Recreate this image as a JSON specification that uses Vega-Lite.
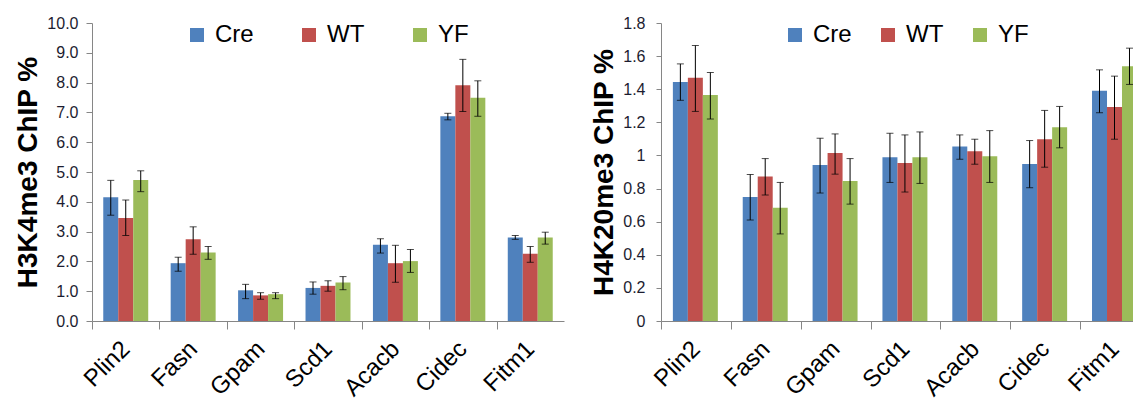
{
  "$schema": "https://vega.github.io/schema/vega-lite/v6.json",
  "padding": {"left": 14, "top": 15, "right": 0, "bottom": 0},
  "spacing": 26,
  "config": {
    "view": {"stroke": null},
    "font": "Liberation Sans",
    "axis": {"grid": false, "domainColor": "#868686", "tickColor": "#868686", "labelFont": "Liberation Sans", "titleFont": "Liberation Sans"},
    "legend": {"labelFont": "Liberation Sans"}
  },
  "datasets": {
    "h3": [
      {"gene": "Plin2", "group": "Cre", "v": 4.15, "lo": 3.55, "hi": 4.72},
      {"gene": "Plin2", "group": "WT", "v": 3.46, "lo": 2.87, "hi": 4.06},
      {"gene": "Plin2", "group": "YF", "v": 4.73, "lo": 4.34, "hi": 5.04},
      {"gene": "Fasn", "group": "Cre", "v": 1.94, "lo": 1.67, "hi": 2.14},
      {"gene": "Fasn", "group": "WT", "v": 2.74, "lo": 2.24, "hi": 3.16},
      {"gene": "Fasn", "group": "YF", "v": 2.30, "lo": 2.07, "hi": 2.50},
      {"gene": "Gpam", "group": "Cre", "v": 1.03, "lo": 0.75, "hi": 1.23},
      {"gene": "Gpam", "group": "WT", "v": 0.86, "lo": 0.73, "hi": 0.95},
      {"gene": "Gpam", "group": "YF", "v": 0.90, "lo": 0.75, "hi": 0.95},
      {"gene": "Scd1", "group": "Cre", "v": 1.11, "lo": 0.90, "hi": 1.31},
      {"gene": "Scd1", "group": "WT", "v": 1.18, "lo": 1.00, "hi": 1.35},
      {"gene": "Scd1", "group": "YF", "v": 1.29, "lo": 1.05, "hi": 1.49},
      {"gene": "Acacb", "group": "Cre", "v": 2.56, "lo": 2.28, "hi": 2.76},
      {"gene": "Acacb", "group": "WT", "v": 1.94, "lo": 1.30, "hi": 2.54},
      {"gene": "Acacb", "group": "YF", "v": 2.01, "lo": 1.63, "hi": 2.40},
      {"gene": "Cidec", "group": "Cre", "v": 6.87, "lo": 6.75, "hi": 6.97},
      {"gene": "Cidec", "group": "WT", "v": 7.91, "lo": 7.03, "hi": 8.78},
      {"gene": "Cidec", "group": "YF", "v": 7.49, "lo": 6.87, "hi": 8.06},
      {"gene": "Fitm1", "group": "Cre", "v": 2.80, "lo": 2.74, "hi": 2.87},
      {"gene": "Fitm1", "group": "WT", "v": 2.26, "lo": 1.97, "hi": 2.50},
      {"gene": "Fitm1", "group": "YF", "v": 2.80, "lo": 2.58, "hi": 2.98}
    ],
    "h4": [
      {"gene": "Plin2", "group": "Cre", "v": 1.443, "lo": 1.333, "hi": 1.553},
      {"gene": "Plin2", "group": "WT", "v": 1.469, "lo": 1.266, "hi": 1.664},
      {"gene": "Plin2", "group": "YF", "v": 1.365, "lo": 1.220, "hi": 1.501},
      {"gene": "Fasn", "group": "Cre", "v": 0.749, "lo": 0.610, "hi": 0.885},
      {"gene": "Fasn", "group": "WT", "v": 0.873, "lo": 0.761, "hi": 0.981},
      {"gene": "Fasn", "group": "YF", "v": 0.684, "lo": 0.526, "hi": 0.837},
      {"gene": "Gpam", "group": "Cre", "v": 0.943, "lo": 0.773, "hi": 1.104},
      {"gene": "Gpam", "group": "WT", "v": 1.015, "lo": 0.887, "hi": 1.130},
      {"gene": "Gpam", "group": "YF", "v": 0.845, "lo": 0.706, "hi": 0.981},
      {"gene": "Scd1", "group": "Cre", "v": 0.989, "lo": 0.837, "hi": 1.134},
      {"gene": "Scd1", "group": "WT", "v": 0.955, "lo": 0.779, "hi": 1.124},
      {"gene": "Scd1", "group": "YF", "v": 0.989, "lo": 0.831, "hi": 1.142},
      {"gene": "Acacb", "group": "Cre", "v": 1.054, "lo": 0.977, "hi": 1.124},
      {"gene": "Acacb", "group": "WT", "v": 1.025, "lo": 0.947, "hi": 1.098},
      {"gene": "Acacb", "group": "YF", "v": 0.995, "lo": 0.837, "hi": 1.150},
      {"gene": "Cidec", "group": "Cre", "v": 0.949, "lo": 0.805, "hi": 1.090},
      {"gene": "Cidec", "group": "WT", "v": 1.098, "lo": 0.929, "hi": 1.272},
      {"gene": "Cidec", "group": "YF", "v": 1.170, "lo": 1.046, "hi": 1.296},
      {"gene": "Fitm1", "group": "Cre", "v": 1.391, "lo": 1.258, "hi": 1.517},
      {"gene": "Fitm1", "group": "WT", "v": 1.292, "lo": 1.098, "hi": 1.479},
      {"gene": "Fitm1", "group": "YF", "v": 1.539, "lo": 1.429, "hi": 1.648}
    ]
  },
  "resolve": {"scale": {"color": "independent"}, "legend": {"color": "independent"}},
  "hconcat": [
    {
      "width": 472,
      "height": 298,
      "data": {"name": "h3"},
      "encoding": {
        "x": {
          "field": "gene", "type": "nominal",
          "sort": ["Plin2", "Fasn", "Gpam", "Scd1", "Acacb", "Cidec", "Fitm1"],
          "scale": {"paddingInner": 0.333, "paddingOuter": 0.167},
          "axis": {"title": null, "labelAngle": -45, "labelAlign": "right", "labelBaseline": "middle", "labelFontSize": 24, "labelColor": "#000", "tickSize": 8, "tickOffset": -33.714, "labelOffset": 33.714, "labelPadding": 16, "labelOverlap": false}
        },
        "xOffset": {"field": "group", "type": "nominal", "sort": ["Cre", "WT", "YF"], "scale": {"paddingInner": 0, "paddingOuter": 0}}
      },
      "layer": [
        {
          "mark": {"type": "bar"},
          "encoding": {
            "y": {
              "field": "v", "type": "quantitative",
              "scale": {"domain": [0, 10], "nice": false},
              "axis": {"title": "H3K4me3 ChIP %", "titleFontSize": 28, "titleFontWeight": "bold", "titleColor": "#000", "titlePadding": 4, "values": [0, 1, 2, 3, 4, 5, 6, 7, 8, 9, 10], "tickCount": 30, "labelOverlap": false, "labelFontSize": 16, "labelColor": "#1c1c30", "tickSize": 6, "labelPadding": 8}
            },
            "color": {
              "field": "group", "type": "nominal",
              "scale": {"domain": ["Cre", "WT", "YF"], "range": ["#4F81BD", "#C0504D", "#9BBB59"]},
              "legend": {"title": null, "orient": "none", "legendX": 93, "legendY": 0, "direction": "horizontal", "columns": 3, "symbolType": "square", "symbolSize": 196, "symbolStrokeWidth": 0, "symbolOpacity": 1, "labelFontSize": 24, "labelColor": "#000", "labelOffset": 6, "columnPadding": 43}
            }
          }
        },
        {
          "mark": {"type": "rule", "color": "#000", "strokeWidth": 1},
          "encoding": {"y": {"field": "lo", "type": "quantitative"}, "y2": {"field": "hi"}}
        },
        {
          "mark": {"type": "tick", "color": "#000", "thickness": 1, "size": 7},
          "encoding": {"y": {"field": "lo", "type": "quantitative"}}
        },
        {
          "mark": {"type": "tick", "color": "#000", "thickness": 1, "size": 7},
          "encoding": {"y": {"field": "hi", "type": "quantitative"}}
        }
      ]
    },
    {
      "width": 489,
      "height": 298,
      "data": {"name": "h4"},
      "encoding": {
        "x": {
          "field": "gene", "type": "nominal",
          "sort": ["Plin2", "Fasn", "Gpam", "Scd1", "Acacb", "Cidec", "Fitm1"],
          "scale": {"paddingInner": 0.34, "paddingOuter": 0.17},
          "axis": {"title": null, "labelAngle": -45, "labelAlign": "right", "labelBaseline": "middle", "labelFontSize": 24, "labelColor": "#000", "tickSize": 8, "tickOffset": -34.93, "labelOffset": 34.93, "labelPadding": 16, "labelOverlap": false}
        },
        "xOffset": {"field": "group", "type": "nominal", "sort": ["Cre", "WT", "YF"], "scale": {"paddingInner": 0, "paddingOuter": 0}}
      },
      "layer": [
        {
          "mark": {"type": "bar"},
          "encoding": {
            "y": {
              "field": "v", "type": "quantitative",
              "scale": {"domain": [0, 1.8], "nice": false},
              "axis": {"title": "H4K20me3 ChIP %", "titleFontSize": 28, "titleFontWeight": "bold", "titleColor": "#000", "titlePadding": 4, "values": [0, 0.2, 0.4, 0.6, 0.8, 1, 1.2, 1.4, 1.6, 1.8], "tickCount": 30, "labelOverlap": false, "format": "~g", "labelFontSize": 16, "labelColor": "#1c1c30", "tickSize": 5, "labelPadding": 11}
            },
            "color": {
              "field": "group", "type": "nominal",
              "scale": {"domain": ["Cre", "WT", "YF"], "range": ["#4F81BD", "#C0504D", "#9BBB59"]},
              "legend": {"title": null, "orient": "none", "legendX": 122, "legendY": 0, "direction": "horizontal", "columns": 3, "symbolType": "square", "symbolSize": 196, "symbolStrokeWidth": 0, "symbolOpacity": 1, "labelFontSize": 24, "labelColor": "#000", "labelOffset": 6, "columnPadding": 24}
            }
          }
        },
        {
          "mark": {"type": "rule", "color": "#000", "strokeWidth": 1},
          "encoding": {"y": {"field": "lo", "type": "quantitative"}, "y2": {"field": "hi"}}
        },
        {
          "mark": {"type": "tick", "color": "#000", "thickness": 1, "size": 7},
          "encoding": {"y": {"field": "lo", "type": "quantitative"}}
        },
        {
          "mark": {"type": "tick", "color": "#000", "thickness": 1, "size": 7},
          "encoding": {"y": {"field": "hi", "type": "quantitative"}}
        }
      ]
    }
  ]
}
